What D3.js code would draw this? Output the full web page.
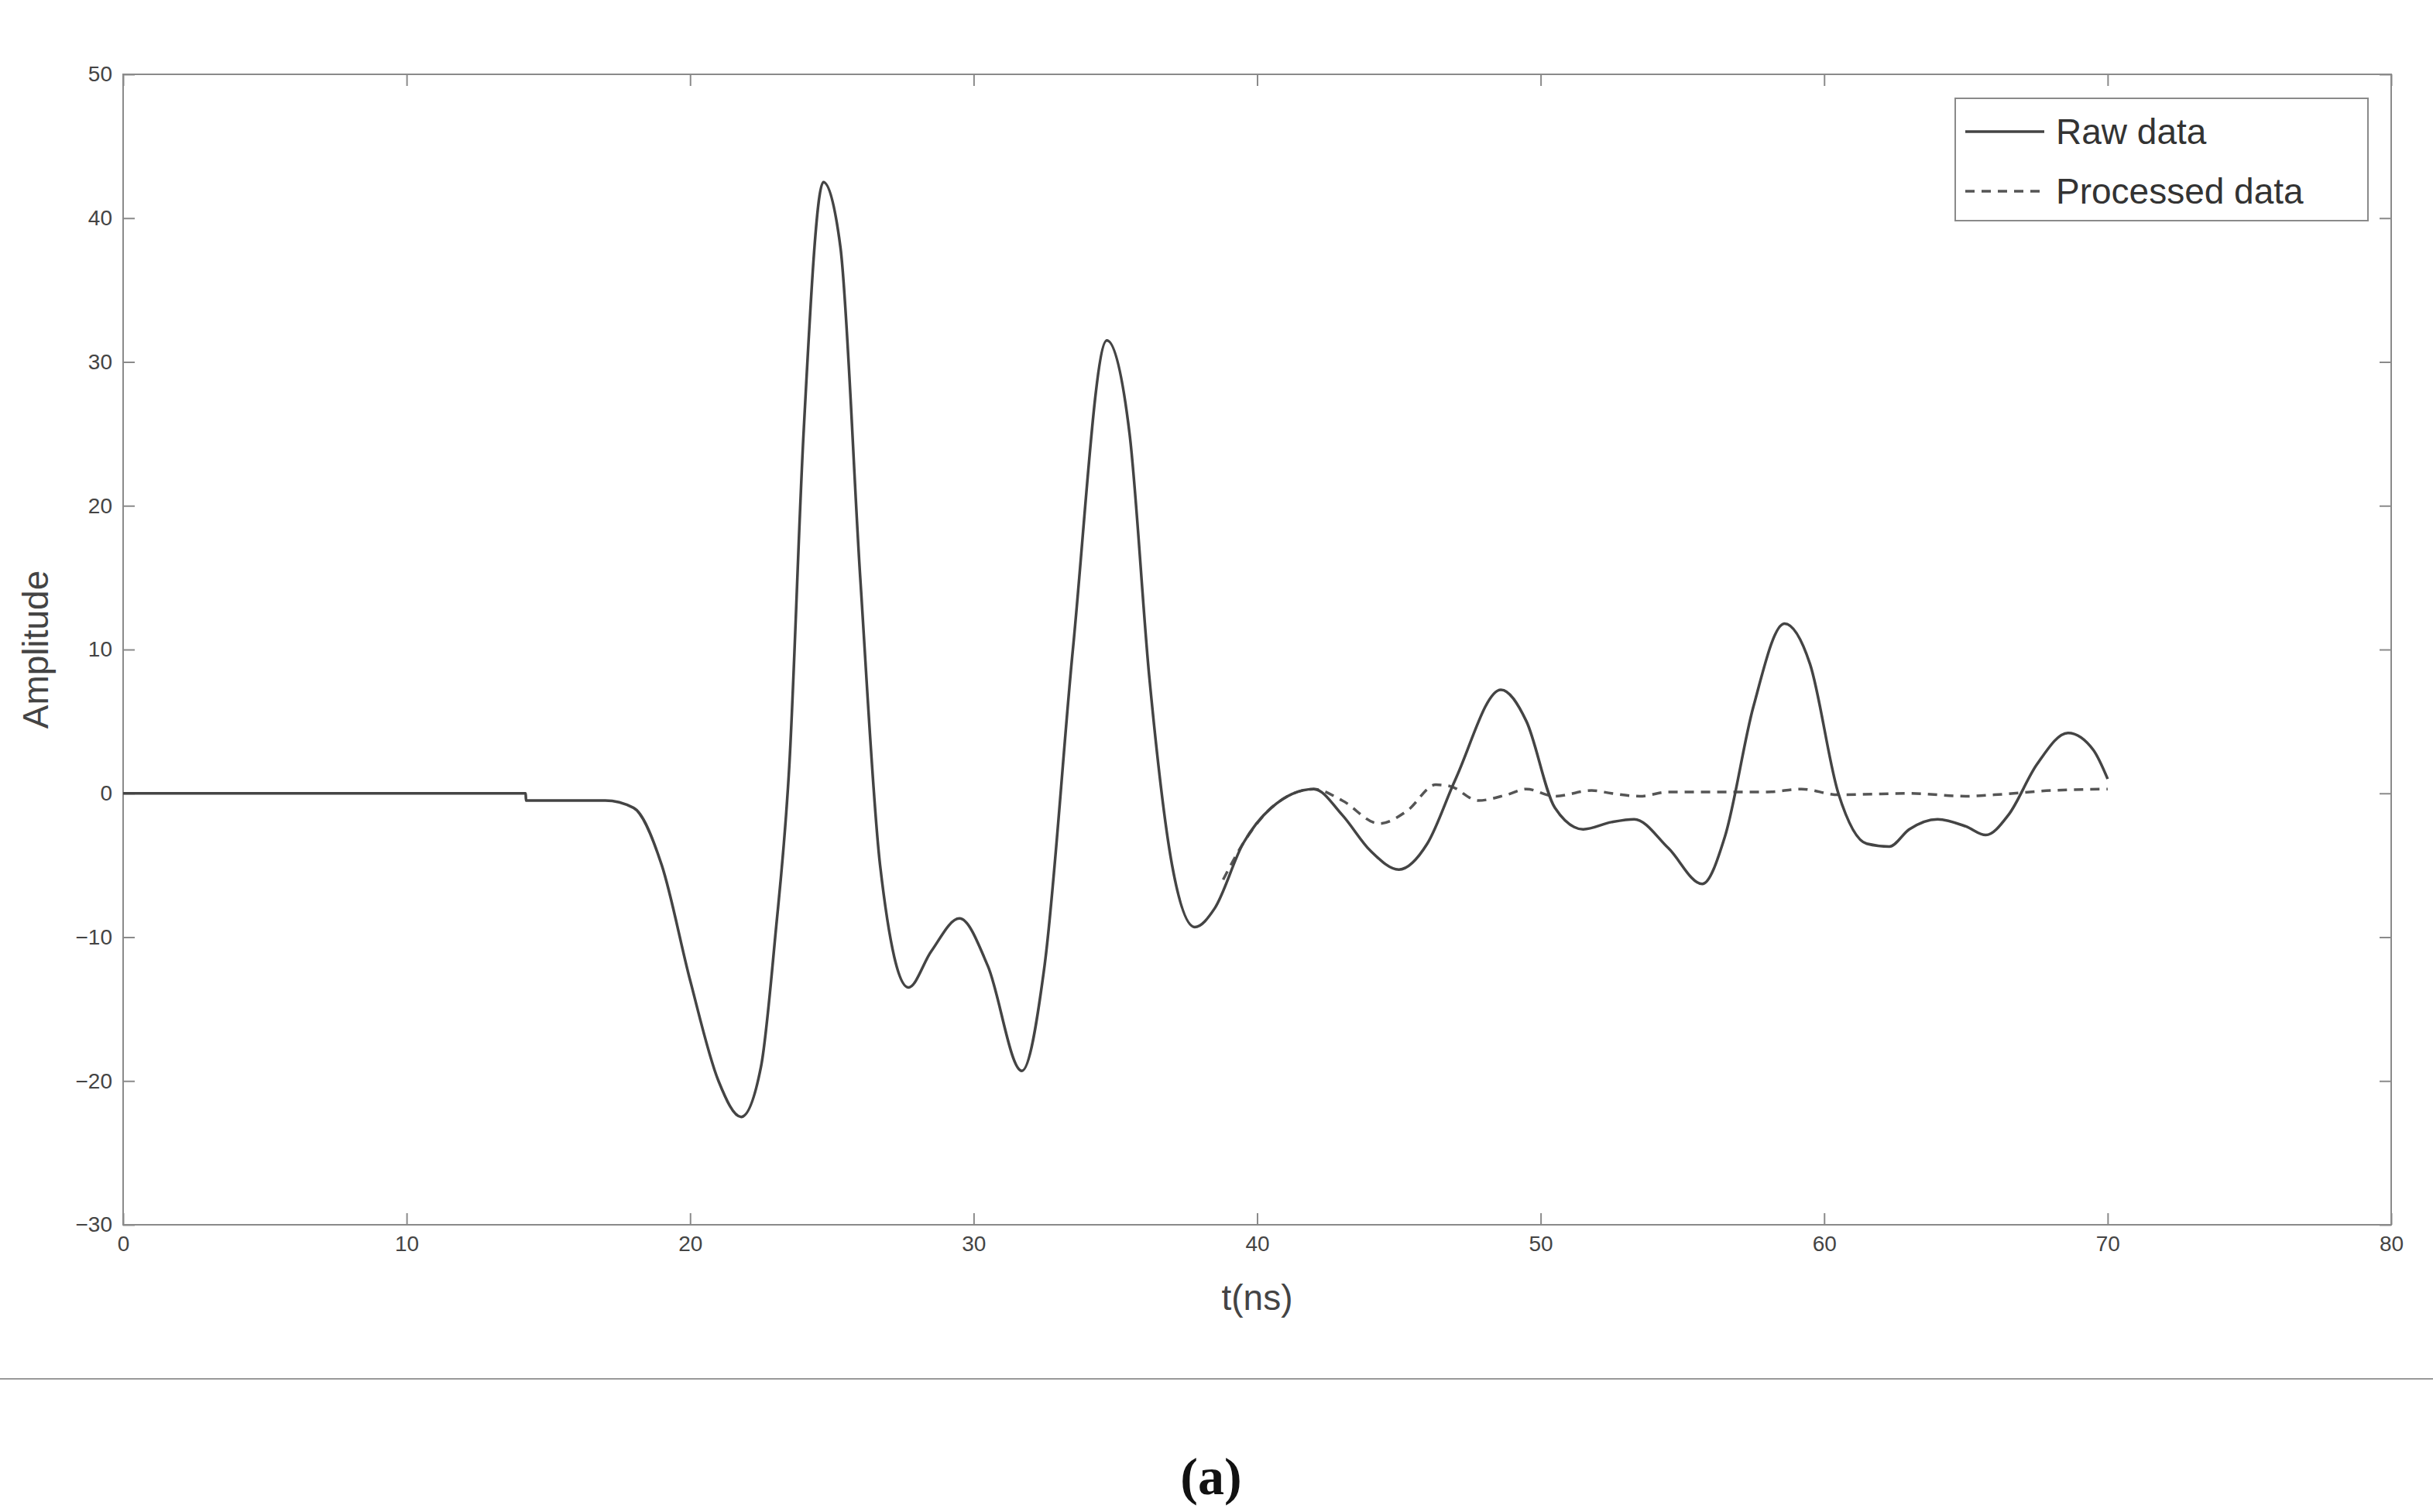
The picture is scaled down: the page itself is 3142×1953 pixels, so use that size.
<!DOCTYPE html><html><head><meta charset="utf-8"><script src="https://cdn.jsdelivr.net/npm/d3@7"></script>
<style>body{margin:0;background:#fff}</style></head><body><svg id="c" width="3142" height="1953"></svg>
<script>
const rawT=[0,14.2,14.21,17,18,19,20,21,21.8,22.5,23,23.5,24,24.7,25.3,26,26.7,27.7,28.5,29.5,30.5,31.7,32.5,33.5,34.7,35.5,36.2,37,37.8,38.5,39.5,40.5,42,43,44,45,46,47,48.6,49.5,50.5,51.5,52.5,53.3,54.5,55.7,56.5,57.5,58.6,59.5,60.5,61.5,62.3,63,64,65,65.7,66.5,67.5,68.6,69.5,70];
const rawV=[0,0,-0.5,-0.5,-1,-5,-13,-20,-22.5,-19,-10,2,25,42.5,38,15,-5,-13.5,-11,-8.7,-12,-19.3,-12,10,31.5,25,8,-5,-9.3,-8,-3.5,-1,0.3,-1.5,-4,-5.3,-3.5,1,7.2,5,-1,-2.5,-2,-1.8,-3.8,-6.3,-3,6,11.8,9,0,-3.5,-3.7,-2.5,-1.8,-2.3,-2.9,-1.5,2,4.2,3,1];
const procT=[38.8,39.5,40.5,42,43,44.3,45.3,46.3,46.8,47.8,48.8,49.5,50.5,51.8,52.5,53.5,54.5,56,58,59.2,60.5,63,65,66,68,70];
const procV=[-6,-3.5,-1,0.3,-0.5,-2.1,-1.2,0.6,0.5,-0.5,-0.1,0.3,-0.2,0.2,0,-0.2,0.1,0.1,0.1,0.3,-0.1,0,-0.2,-0.1,0.2,0.3];
const xTicks=[0,10,20,30,40,50,60,70,80], yTicks=[-30,-20,-10,0,10,20,30,40,50];
const svg=d3.select("#c");
const L=159,R=3088,T=96,B=1582;
const x=d3.scaleLinear().domain([0,80]).range([L,R]);
const y=d3.scaleLinear().domain([-30,50]).range([B,T]);
const gc="#8a8a8a", tc="#444", font="Liberation Sans, Arial, sans-serif";
svg.append("rect").attr("x",L).attr("y",T).attr("width",R-L).attr("height",B-T).attr("fill","none").attr("stroke",gc).attr("stroke-width",2);
const ax=(g,gen)=>{g.call(gen);g.select(".domain").remove();g.selectAll("line").attr("stroke",gc).attr("stroke-width",2);g.selectAll("text").attr("fill",tc).style("font-family",font).style("font-size","28px");};
svg.append("g").attr("transform",`translate(0,${B})`).call(g=>ax(g,d3.axisBottom(x).tickValues(xTicks).tickSize(-15).tickPadding(14)));
svg.append("g").attr("transform",`translate(0,${T})`).call(g=>{ax(g,d3.axisTop(x).tickValues(xTicks).tickSize(-15));g.selectAll("text").remove();});
svg.append("g").attr("transform",`translate(${L},0)`).call(g=>ax(g,d3.axisLeft(y).tickValues(yTicks).tickSize(-15).tickPadding(14)));
svg.append("g").attr("transform",`translate(${R},0)`).call(g=>{ax(g,d3.axisRight(y).tickValues(yTicks).tickSize(-15));g.selectAll("text").remove();});
const line=d3.line().x(d=>x(d[0])).y(d=>y(d[1])).curve(d3.curveMonotoneX);
const rawD=rawT.map((t,i)=>[t,rawV[i]]), procD=procT.map((t,i)=>[t,procV[i]]);
svg.append("path").attr("d",line(procD)).attr("fill","none").attr("stroke","#555").attr("stroke-width",3.5).attr("stroke-dasharray","12,9");
svg.append("path").attr("d",line(rawD)).attr("fill","none").attr("stroke","#444").attr("stroke-width",3.5);
svg.append("text").attr("x",(L+R)/2).attr("y",1692).attr("text-anchor","middle").attr("fill",tc).style("font-family",font).style("font-size","46px").text("t(ns)");
svg.append("text").attr("transform",`translate(62,${(T+B)/2}) rotate(-90)`).attr("text-anchor","middle").attr("fill",tc).style("font-family",font).style("font-size","46px").text("Amplitude");
// legend
svg.append("rect").attr("x",2525).attr("y",127).attr("width",533).attr("height",158).attr("fill","#fff").attr("stroke",gc).attr("stroke-width",2);
svg.append("line").attr("x1",2538).attr("x2",2640).attr("y1",170).attr("y2",170).attr("stroke","#444").attr("stroke-width",3.5);
svg.append("line").attr("x1",2538).attr("x2",2640).attr("y1",247).attr("y2",247).attr("stroke","#555").attr("stroke-width",3.5).attr("stroke-dasharray","12,9");
svg.append("text").attr("x",2655).attr("y",186).attr("fill","#333").style("font-family",font).style("font-size","46px").text("Raw data");
svg.append("text").attr("x",2655).attr("y",263).attr("fill","#333").style("font-family",font).style("font-size","46px").text("Processed data");
svg.append("line").attr("x1",0).attr("x2",3142).attr("y1",1781).attr("y2",1781).attr("stroke","#999").attr("stroke-width",2);
svg.append("text").attr("x",1564).attr("y",1930).attr("text-anchor","middle").attr("fill","#111").style("font-family","Liberation Serif, serif").style("font-weight","bold").style("font-size","68px").text("(a)");
</script></body></html>
